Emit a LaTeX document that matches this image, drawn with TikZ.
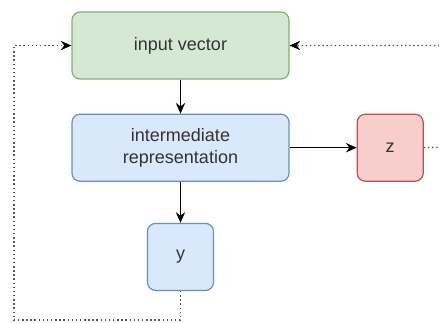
\documentclass[tikz,border=0pt]{standalone}
\usepackage{fontspec}
\setmainfont{Liberation Sans}
\usetikzlibrary{shapes,arrows.meta,positioning,calc}

\definecolor{greenfill}{HTML}{D5E8D4}
\definecolor{greenline}{HTML}{82B366}
\definecolor{bluefill}{HTML}{DAE8FC}
\definecolor{blueline}{HTML}{6C8EBF}
\definecolor{redfill}{HTML}{F8CECC}
\definecolor{redline}{HTML}{B85450}
\definecolor{textgray}{HTML}{333333}
\definecolor{loopgray}{HTML}{555555}

\tikzset{
    box/.style={rectangle, rounded corners=6pt, draw, line width=0.9pt, inner sep=0pt, align=center, text=textgray, font=\fontsize{13.5}{17}\selectfont},
    widebox/.style={box, minimum width=162.75pt, minimum height=50.25pt},
    smallbox/.style={box, minimum width=49.5pt, minimum height=50.25pt},
    flow/.style={-{Stealth[length=8pt,width=7pt]}, line width=1pt},
    loop/.style={line width=0.9pt, loopgray, dash pattern=on 1.1pt off 2pt},
    looptip/.style={loop, -{Stealth[length=8pt,width=7pt,black]}}
}

\begin{document}
\begin{tikzpicture}[x=0.75pt, y=-0.75pt]

    \useasboundingbox (0,0) rectangle (439,322);
    \clip (0,0) rectangle (439,322);

        % Nodes
    \node (input) [widebox, fill=greenfill, draw=greenline] at (180.5,45.5) {input vector};
    \node (inter) [widebox, fill=bluefill, draw=blueline, below=25.5pt of input] {intermediate\\representation};
    \node (z) [smallbox, fill=redfill, draw=redline, right=50.25pt of inter] {z};
    \node (y) [smallbox, fill=bluefill, draw=blueline, below=30.75pt of inter] {y};

    \coordinate (ybottom) at ($(y.south)+(0,32)$);
    \coordinate (leftbottom) at (14,320);
    \coordinate (lefttop) at (14,45.5);
    \coordinate (zright) at (470,146.5);
    \coordinate (righttop) at (470,45.5);

        % Arrows
    \draw [flow] (input) -- (inter);
    \draw [flow] (inter) -- (z);
    \draw [flow] (inter) -- (y);
    \draw [looptip] (y.south) -- (ybottom |- leftbottom) -- (leftbottom) -- (lefttop) -- (input.west);
    \draw [looptip] (z.east) -- (zright) -- (righttop) -- (input.east);

\end{tikzpicture}
\end{document}
